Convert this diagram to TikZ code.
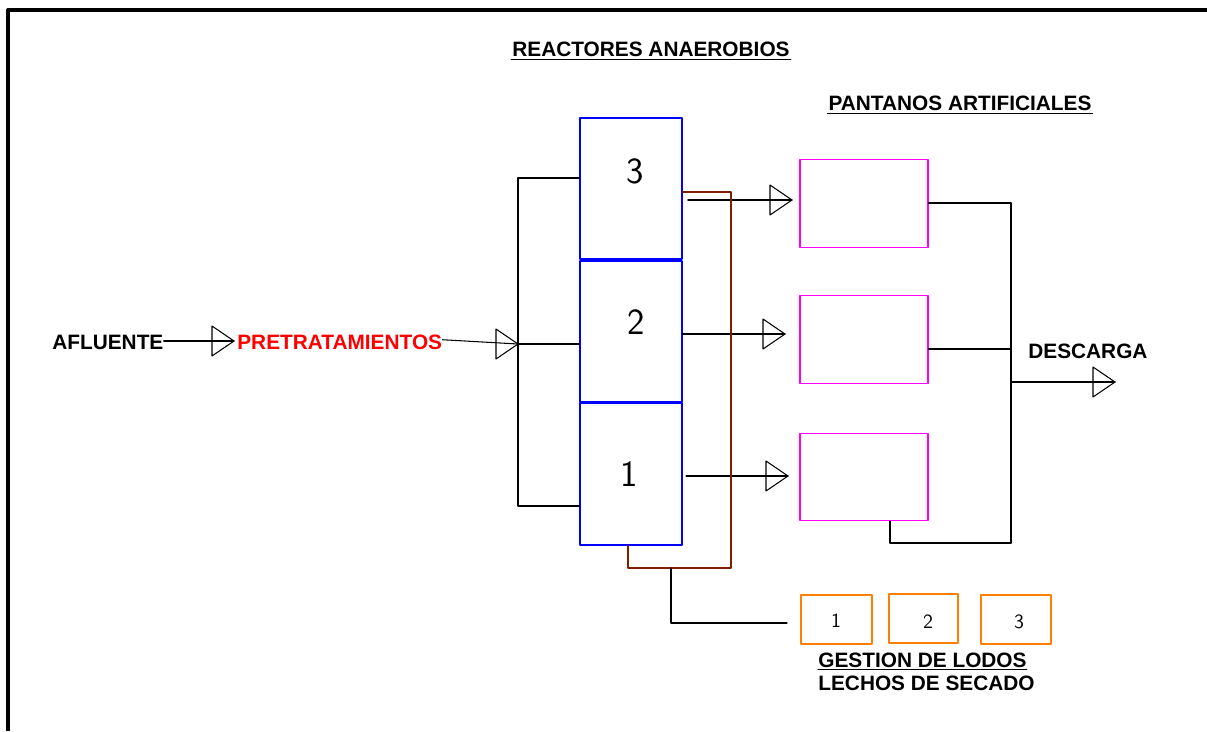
\documentclass[tikz,border=0pt]{standalone}
\usepackage{fontspec}
\setmainfont{Liberation Sans}
\definecolor{reactorblue}{RGB}{0,0,255}
\definecolor{wetmagenta}{RGB}{255,0,255}
\definecolor{bedorange}{RGB}{255,127,0}
\definecolor{sludgebrown}{RGB}{130,30,0}
\definecolor{feedred}{RGB}{255,0,0}
\tikzset{
	pipe/.style={line width=0.6pt, black},
	reactor/.style={draw=reactorblue, line width=0.6pt, inner sep=0pt, minimum width=2.04cm, minimum height=2.82cm},
	wetland/.style={draw=wetmagenta, line width=0.6pt, inner sep=0pt, minimum width=2.56cm, minimum height=1.75cm},
	bed/.style={draw=bedorange, line width=0.6pt, inner sep=0pt, minimum height=0.98cm},
	label/.style={inner sep=0pt, font=\fontsize{11.85}{14}\selectfont\bfseries},
	bignum/.style={inner sep=0pt, anchor=base, font=\sffamily\fontsize{21}{24}\selectfont},
	smallnum/.style={inner sep=0pt, anchor=base, font=\sffamily\fontsize{11.5}{13}\selectfont}
}
\newcommand{\openhead}[1]{\draw[pipe] (#1) -- ++(-22,-15) -- ++(0,30) -- cycle;}
\begin{document}
\begin{tikzpicture}[x=0.02cm, y=-0.02cm, line cap=round, line join=round]
	\useasboundingbox (0,0) rectangle (1207,731);
	\draw[line width=2.3pt, line cap=butt] (8,731) -- (8,10) -- (1207,10);

	\node[label, anchor=base] (title) at (651,56) {REACTORES ANAEROBIOS};
	\draw[pipe] ([xshift=-0.5pt, yshift=-2.2pt]title.base west) -- ([xshift=0.5pt, yshift=-2.2pt]title.base east);
	\node[label, anchor=base] (wettitle) at (960,110) {PANTANOS ARTIFICIALES};
	\draw[pipe] ([xshift=-0.5pt, yshift=-2.2pt]wettitle.base west) -- ([xshift=0.5pt, yshift=-2.2pt]wettitle.base east);

	\node[label, anchor=base west] (afl) at (52,349) {AFLUENTE};
	\node[label, anchor=base west, text=feedred] (pre) at (237,349) {PRETRATAMIENTOS};
	\node[label, anchor=base west] (desc) at (1028,358) {DESCARGA};

	\node[reactor] (r3) at (631,188.5) {};
	\node[reactor] (r2) at (631,331.5) {};
	\node[reactor, minimum height=2.84cm] (r1) at (631,474) {};
	\node[bignum] (n3) at (635,183) {3};
	\node[bignum] (n2) at (636,334) {2};
	\node[bignum] (n1) at (629,486) {1};

	\node[wetland] (wA) at (864,203.5) {};
	\node[wetland] (wB) at (864,339.5) {};
	\node[wetland] (wC) at (864,477) {};

	\node[bed, minimum width=1.42cm] (b1) at (836.5,619.5) {};
	\node[bed, minimum width=1.38cm] (b2) at (923.5,618.5) {};
	\node[bed, minimum width=1.40cm] (b3) at (1016,619.5) {};
	\node[smallnum] (m1) at (836,627) {1};
	\node[smallnum] (m2) at (928,628) {2};
	\node[smallnum] (m3) at (1019,628) {3};

	\node[label, anchor=base west] (lodos) at (818,667) {GESTION DE LODOS};
	\draw[pipe] ([yshift=-1.5pt]lodos.base west) -- ([yshift=-1.5pt]lodos.base east);
	\node[label, anchor=base west] (lechos) at (818,690) {LECHOS DE SECADO};

	\coordinate (fa) at (234,341);
	\coordinate (fb) at (518,344);
	\coordinate (dtop) at (518,178);
	\coordinate (dbot) at (518,506);
	\coordinate (t3) at (792,200);
	\coordinate (t2) at (785,334);
	\coordinate (t1) at (788,476);
	\coordinate (cA) at (1011,203);
	\coordinate (cB) at (1011,349);
	\coordinate (cCx) at (890,543);
	\coordinate (cC) at (1011,543);
	\coordinate (cD) at (1011,382);
	\coordinate (tD) at (1115,382);
	\coordinate (s1) at (731,192);
	\coordinate (s2) at (731,568);
	\coordinate (s3) at (628,568);
	\coordinate (s4) at (671,568);
	\coordinate (s5) at (787,623);

	\draw[pipe] (afl.east |- fa) -- (fa);
	\draw[pipe] ([yshift=1.2pt]pre.east) -- (fb);
	\draw[pipe] (dtop -| r3.west) -- (dtop) -- (dbot) -- (dbot -| r1.west);
	\draw[pipe] (fb) -- (fb -| r2.west);
	\draw[pipe] ([xshift=3pt]r3.east |- t3) -- (t3);
	\draw[pipe] (r2.east |- t2) -- (t2);
	\draw[pipe] ([xshift=2pt]r1.east |- t1) -- (t1);
	\foreach \tip in {fa, fb, t3, t2, t1, tD} {
		\openhead{\tip}
	}
	\draw[sludgebrown, line width=0.6pt] (r3.east |- s1) -- (s1) -- (s2) -- (s3) -- (s3 |- r1.south);
	\draw[pipe] (s4) |- (s5);
	\draw[pipe] (wA.east |- cA) -- (cA);
	\draw[pipe] (wB.east |- cB) -- (cB);
	\draw[pipe] (cCx |- wC.south) -- (cCx) -- (cC);
	\draw[pipe] (cA) -- (cC);
	\draw[pipe] (cD) -- (tD);
\end{tikzpicture}
\end{document}
